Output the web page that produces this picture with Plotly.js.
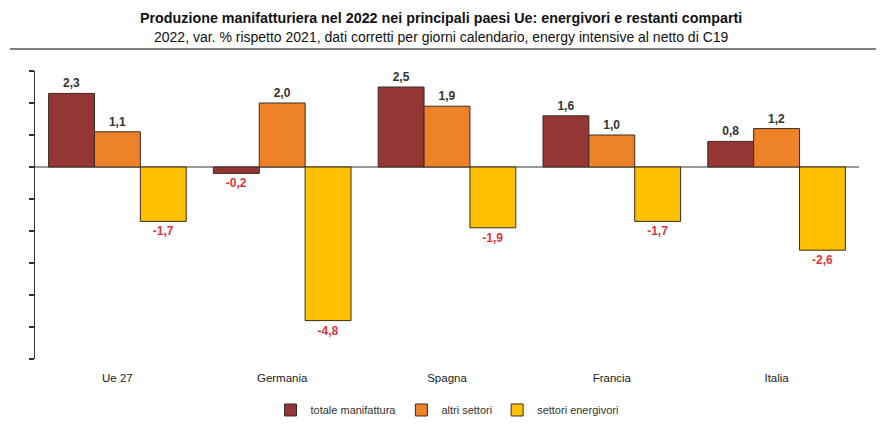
<!DOCTYPE html>
<html><head><meta charset="utf-8">
<script src="https://cdn.plot.ly/plotly-3.0.1.min.js"></script>
<style>body{margin:0;background:#fff}#chart{width:886px;height:428px}</style>
</head><body><div id="chart"></div>
<script>
const categories = ["Ue 27", "Germania", "Spagna", "Francia", "Italia"];
const totaleManifattura = [2.3, -0.2, 2.5, 1.6, 0.8];
const altriSettori = [1.1, 2.0, 1.9, 1.0, 1.2];
const settoriEnergivori = [-1.7, -4.8, -1.9, -1.7, -2.6];
const seriesNames = ["totale manifattura", "altri settori", "settori energivori"];
const yTicks = [-6, -5, -4, -3, -2, -1, 0, 1, 2, 3];

const FONT = "'Liberation Sans Narrow', 'Arial Narrow', 'Liberation Sans', Arial, sans-serif";
const colors = ["#963634", "#EE8228", "#FFC000"];
function labelColors(vals){ return vals.map(v => v < 0 ? "#E0343A" : "#333333"); }

const seriesData = [totaleManifattura, altriSettori, settoriEnergivori];
const traces = seriesData.map((vals, i) => ({
  type: "bar",
  name: seriesNames[i],
  x: categories,
  y: vals,
  marker: {color: colors[i], line: {color: "#3b2a22", width: 1}},
  texttemplate: "%{y:.1f}",
  textposition: "outside",
  cliponaxis: false,
  textfont: {family: FONT, size: 12, color: labelColors(vals), weight: "bold"},
  hoverinfo: "skip"
}));

const layout = {
  width: 886, height: 428,
  margin: {l: 35, r: 27, t: 71, b: 69, autoexpand: false},
  paper_bgcolor: "#fff", plot_bgcolor: "#fff",
  separators: ",.",
  barmode: "group",
  bargap: 0.165,
  bargroupgap: 0,
  showlegend: true,
  legend: {orientation: "h", x: 0.5, xanchor: "center", y: -0.177, yanchor: "middle",
           font: {family: FONT, size: 11, color: "#333"}, traceorder: "normal", itemwidth: 30},
  xaxis: {showline: false, ticks: "", tickfont: {family: FONT, size: 11.5, color: "#222"},
          ticklabelstandoff: 10,
          showgrid: false, zeroline: false, fixedrange: true},
  yaxis: {range: [-6, 3], tickvals: yTicks, showticklabels: false, ticks: "outside", ticklen: 5,
          tickcolor: "#333", tickwidth: 1.5, showline: true, linecolor: "#333", linewidth: 1.5,
          showgrid: false, zeroline: true, zerolinecolor: "#999", zerolinewidth: 1.5},
  annotations: [
    {xref: "paper", yref: "paper", x: 0.493, y: 1.184, xanchor: "center", yanchor: "middle",
     text: "<b>Produzione manifatturiera nel 2022 nei principali paesi Ue: energivori e restanti comparti</b>",
     showarrow: false, font: {family: FONT, size: 14.3, color: "#111"}},
    {xref: "paper", yref: "paper", x: 0.493, y: 1.118, xanchor: "center", yanchor: "middle",
     text: "2022, var. % rispetto 2021, dati corretti per giorni calendario, energy intensive al netto di C19",
     showarrow: false, font: {family: FONT, size: 14, color: "#111"}}
  ],
  shapes: [
    {type: "line", xref: "paper", yref: "paper", x0: -0.0303, x1: 1.0206, y0: 1.0764, y1: 1.0764,
     line: {color: "#555", width: 1.5}}
  ]
};

Plotly.newPlot("chart", traces, layout, {displayModeBar: false, staticPlot: true});
</script></body></html>
